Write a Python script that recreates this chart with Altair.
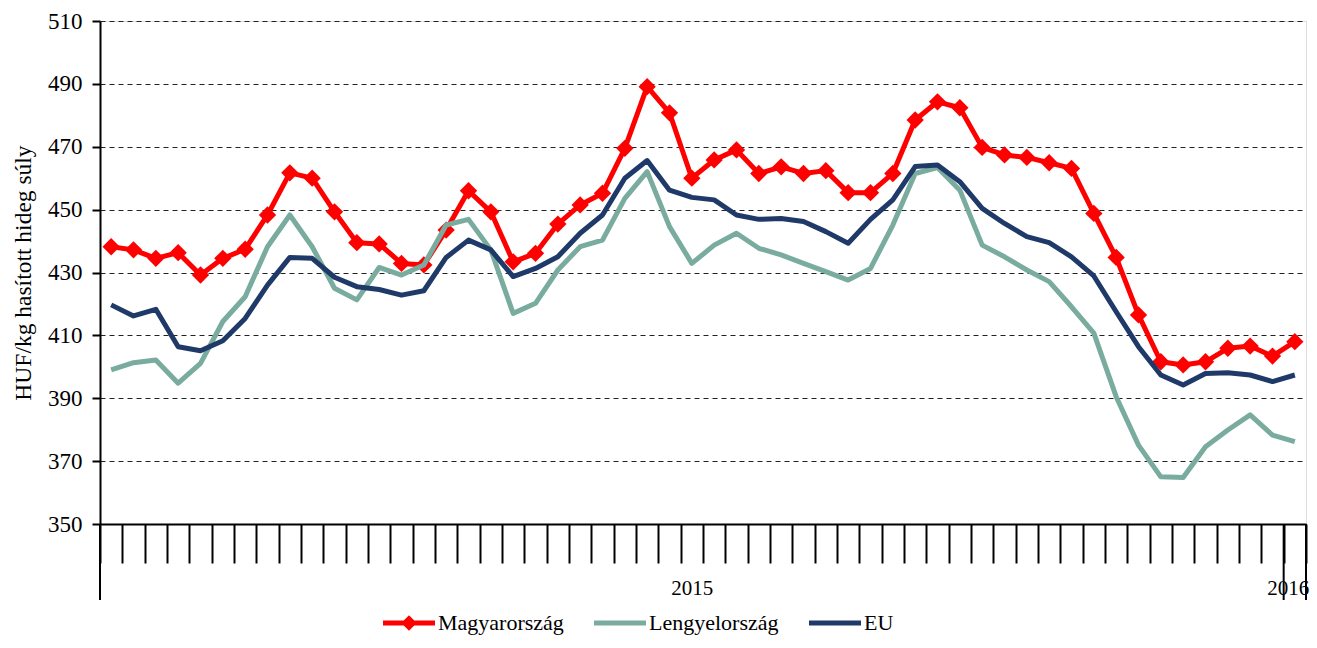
import altair as alt
import pandas as pd

# ---------------- data ----------------
series_names = ["Magyarország", "Lengyelország", "EU"]
series_colors = ["#FF0000", "#79AC9F", "#1F3A68"]

magyar = [438.2, 437.2, 434.5, 436.3, 429.2, 434.5, 437.4, 448.3, 461.7, 460.0,
          449.3, 439.5, 439.1, 432.9, 432.4, 443.5, 456.0, 449.3, 433.4, 436.1,
          445.4, 451.5, 455.2, 469.5, 489.1, 480.8, 460.0, 465.8, 469.0, 461.5,
          463.6, 461.5, 462.4, 455.4, 455.4, 461.5, 478.5, 484.3, 482.4, 469.8,
          467.4, 466.6, 464.9, 463.1, 448.8, 434.8, 416.5, 401.6, 400.6, 401.6,
          405.9, 406.6, 403.4, 408.0]
lengyel = [399.0, 401.3, 402.2, 394.8, 401.1, 414.4, 422.3, 438.2, 448.3, 438.2,
           425.0, 421.3, 431.6, 429.2, 432.4, 445.1, 446.9, 437.2, 417.0, 420.2,
           430.8, 438.2, 440.3, 453.6, 462.1, 444.6, 432.9, 438.7, 442.5, 437.7,
           435.6, 432.9, 430.3, 427.6, 431.3, 445.1, 461.5, 463.4, 456.2, 438.7,
           435.0, 430.8, 427.1, 419.1, 410.7, 390.5, 375.1, 365.0, 364.8, 374.6,
           379.9, 384.7, 378.3, 376.2]
eu = [419.7, 416.2, 418.3, 406.4, 405.1, 408.3, 415.4, 426.0, 434.8, 434.5,
      428.5, 425.5, 424.6, 422.8, 424.2, 434.8, 440.3, 437.2, 428.7, 431.3,
      435.0, 442.5, 448.3, 460.0, 465.6, 456.2, 453.9, 453.1, 448.3, 446.9,
      447.2, 446.2, 443.0, 439.3, 446.9, 453.1, 463.7, 464.2, 458.9, 450.4,
      445.6, 441.4, 439.5, 435.0, 428.9, 417.5, 406.4, 397.4, 394.2, 397.9,
      398.1, 397.4, 395.3, 397.4]

n_periods = len(magyar)
period_index = list(range(n_periods))
year_label_index = [26, 53]
year_label_text = ["2015", "2016"]
year_separators = [-0.5, 52.5, 53.5]
y_ticks = list(range(350, 511, 20))

FONT = "Liberation Serif"

# ---------------- tables ----------------
def series_df(vals, name):
    return pd.DataFrame({"i": period_index, "v": vals, "s": name})

df_m = series_df(magyar, series_names[0])
df_l = series_df(lengyel, series_names[1])
df_e = series_df(eu, series_names[2])
df_sep = pd.DataFrame({"x": year_separators})
df_leg = pd.DataFrame({"s": series_names})

x_scale = alt.Scale(domain=[-0.5, n_periods - 0.5], nice=False, zero=False)
y_scale = alt.Scale(domain=[350, 510], nice=False, zero=False)

boundaries = [k - 0.5 for k in range(n_periods + 1)]
label_expr = " : ".join(
    [f"datum.value == {i} ? '{t}'" for i, t in zip(year_label_index, year_label_text)]
) + " : ''"
hide_test = " || ".join([f"datum.value == {i}" for i in year_label_index])

x_axis = alt.Axis(
    values=boundaries + year_label_index, tickCount=500,
    tickSize=39, tickWidth=2, tickColor="black",
    tickOpacity={"condition": {"test": hide_test, "value": 0}, "value": 1},
    labelExpr=label_expr, labelFont=FONT, labelFontSize=21, labelColor="black",
    labelPadding=14, labelOverlap=False, labelFlush=False, labelBound=False,
    labelOffset={"condition": {"test": f"datum.value == {year_label_index[-1]}", "value": -7}, "value": 0},
    domainColor="black", domainWidth=2, grid=False, title=None,
)
y_axis = alt.Axis(
    values=y_ticks, tickCount=20, tickSize=8, tickWidth=2, tickColor="black",
    labelFont=FONT, labelFontSize=23, labelColor="black", labelPadding=10,
    domainColor="black", domainWidth=2,
    grid=True, gridColor="#222222", gridDash=[5, 4], gridWidth=1,
    title="HUF/kg hasított hideg súly", titleFont=FONT, titleFontSize=23.5,
    titleFontWeight="normal", titleColor="black", titlePadding=12,
)

X = alt.X("i:Q", scale=x_scale, axis=x_axis)
Y = alt.Y("v:Q", scale=y_scale, axis=y_axis)

line_m = alt.Chart(df_m).mark_line(color=series_colors[0], strokeWidth=5, strokeJoin="round").encode(x=X, y=Y)
pts_m = alt.Chart(df_m).mark_point(shape="diamond", filled=True, size=300, color=series_colors[0], opacity=1).encode(x=X, y=Y)
line_l = alt.Chart(df_l).mark_line(color=series_colors[1], strokeWidth=5, strokeJoin="round").encode(x=X, y=Y)
line_e = alt.Chart(df_e).mark_line(color=series_colors[2], strokeWidth=5, strokeJoin="round").encode(x=X, y=Y)

sep = alt.Chart(df_sep).mark_rule(color="black", strokeWidth=2).encode(
    x=alt.X("x:Q", scale=x_scale), y=alt.value(503), y2=alt.value(579)
)

# legend (symbols: thick line, plus diamond for Magyarország)
bar_path = "M-1,-0.095L1,-0.095L1,0.095L-1,0.095Z"
diamond_bar_path = bar_path + "M-0.3,0L0,-0.3L0.3,0L0,0.3Z"
legend_def = alt.Legend(
    orient="none", legendX=283, legendY=576, direction="horizontal", title=None,
    labelFont=FONT, labelFontSize=22, labelColor="black", labelOffset=3,
    symbolSize=2704, symbolStrokeWidth=0, columnPadding=30, padding=0, offset=0,
)
leg = alt.Chart(df_leg).mark_point(filled=True, clip=True, opacity=1).encode(
    x=alt.datum(-30, scale=x_scale),
    y=alt.datum(400),
    color=alt.Color("s:N", scale=alt.Scale(domain=series_names, range=series_colors), legend=legend_def),
    shape=alt.Shape("s:N", scale=alt.Scale(domain=series_names, range=[diamond_bar_path, bar_path, bar_path]), legend=legend_def),
)

chart = alt.layer(line_m, pts_m, line_l, line_e, sep, leg).properties(
    width=1206, height=503,
    autosize=alt.AutoSizeParams(type="none"),
    padding={"left": 92, "top": 13, "right": 3, "bottom": 112},
).configure_view(stroke=None).configure(background="white")

chart.save("out.html", embed_options={"renderer": "svg", "actions": False})
